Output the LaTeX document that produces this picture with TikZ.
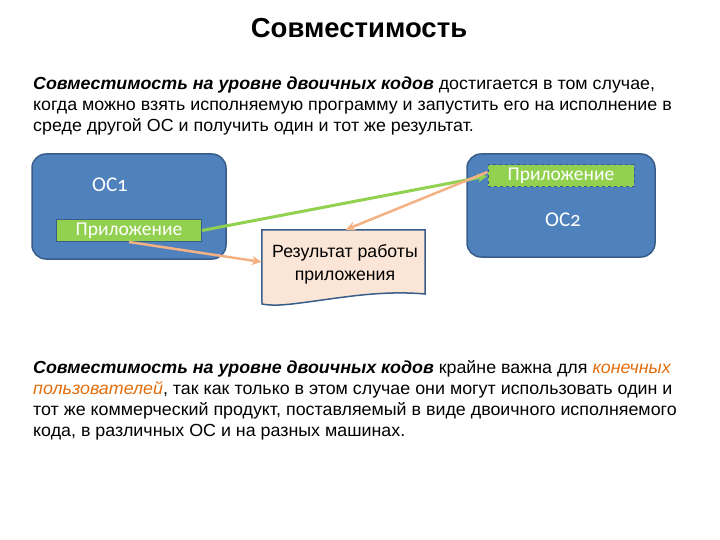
\documentclass[tikz,border=0pt]{standalone}
\usepackage{fontspec}
\setmainfont{Liberation Sans}
\newfontfamily\narrowfont[FakeStretch=1.02]{Liberation Sans}
\newfontfamily\calfont[Numbers=OldStyle]{Carlito}
\usetikzlibrary{arrows.meta}
\definecolor{osblue}{HTML}{4F81BD}
\definecolor{osedge}{HTML}{385D8A}
\definecolor{appgreen}{HTML}{92D050}
\definecolor{respeach}{HTML}{FBE5D6}
\definecolor{arrorange}{HTML}{F4B183}
\definecolor{txtorange}{HTML}{E46C0A}
\begin{document}
\begin{tikzpicture}[x=1pt,y=-1pt,
	osbox/.style={draw=osedge,line width=1.5pt,fill=osblue,rounded corners=14pt},
	appbox/.style={draw=osedge,line width=1pt,fill=appgreen,text=white,inner sep=0pt,font=\calfont\fontsize{19.5}{19.5}\selectfont},
	oslabel/.style={text=white,font=\calfont\fontsize{21}{21}\selectfont},
	txtline/.style={anchor=base west,inner sep=0pt,font=\narrowfont\fontsize{17.5}{17.5}\selectfont},
	greenarr/.style={draw=appgreen,line width=3pt,-{Stealth[length=10pt,width=9pt]}},
	orangearr/.style={draw=arrorange,line width=2.5pt,-{Stealth[length=10pt,width=9pt]}}]
	\useasboundingbox (0,0) rectangle (720,540);
	% titulo
	\node[font=\bfseries\fontsize{27.5}{27.5}\selectfont] (titulo) at (359,28) {Совместимость};
	% primer parrafo
	\node[txtline] (p1a) at (33,90) {\textbf{\textit{Совместимость на уровне двоичных кодов}} достигается в том случае,};
	\node[txtline] (p1b) at (33,111) {когда можно взять исполняемую программу и запустить его на исполнение в};
	\node[txtline] (p1c) at (33,132) {среде другой ОС и получить один и тот же результат.};
	% sistemas
	\draw[osbox] (32,154) rectangle (226,259);
	\node[oslabel] (os1) at (110,185) {ОС1};
	\node[appbox,minimum width=145pt,minimum height=22pt] (app1) at (129,230.5) {Приложение};
	\draw[osbox] (467,154) rectangle (655,257);
	\node[oslabel] (os2) at (563,220) {ОС2};
	\node[appbox,dashed,minimum width=146pt,minimum height=22pt] (app2) at (561,176) {Приложение};
	% resultado
	\node[inner sep=0pt,minimum width=163pt,minimum height=74pt] (res) at (343.5,267) {};
	\draw[draw=osedge,line width=1.5pt,fill=respeach] (res.north west) -- (res.north east)
		-- (425,294) .. controls (380,290) and (340,298) .. (300,303)
		.. controls (285,305) and (272,306) .. (262,304) -- cycle;
	\node[align=center,font=\fontsize{17.7}{23}\selectfont] (restxt) at (345,264) {Результат работы\\приложения};
	% flechas
	\draw[greenarr] (app1.east) -- (app2.west);
	\draw[orangearr] (app1.south) -- ([yshift=5pt]res.west);
	\draw[orangearr] ([yshift=4pt]app2.west) -- ([xshift=2pt]res.north);
	% segundo parrafo
	\node[txtline] (p2a) at (33,373) {\textbf{\textit{Совместимость на уровне двоичных кодов}} крайне важна для \textcolor{txtorange}{\textit{конечных}}};
	\node[txtline] (p2b) at (33,394) {\textcolor{txtorange}{\textit{пользователей}}, так как только в этом случае они могут использовать один и};
	\node[txtline] (p2c) at (33,415) {тот же коммерческий продукт, поставляемый в виде двоичного исполняемого};
	\node[txtline] (p2d) at (33,436) {кода, в различных ОС и на разных машинах.};
\end{tikzpicture}
\end{document}
